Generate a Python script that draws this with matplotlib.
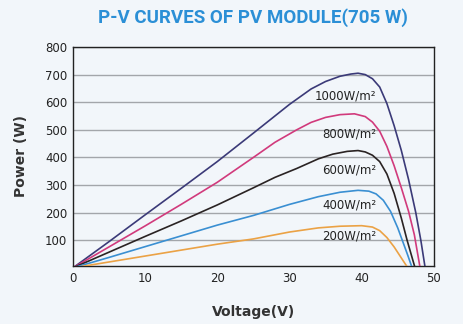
import matplotlib
matplotlib.use("Agg")
import matplotlib.pyplot as plt

# voltage / power points, one pair of lists per irradiance
v_1000 = [0, 5, 10, 15, 20, 25, 30, 33, 35, 37, 38.5, 39.5, 40.5, 41.5, 42.5, 43.5, 44.5, 45.5, 46.5, 47.5, 48.2, 48.8]
p_1000 = [0, 95, 192, 288, 385, 488, 592, 648, 675, 694, 702, 705, 700, 685, 655, 595, 515, 425, 320, 200, 100, 0]

v_800 = [0, 5, 10, 15, 20, 25, 28, 31, 33, 35, 37, 39, 40.5, 41.5, 42.5, 43.5, 44.5, 45.5, 46.5, 47.3, 48.1]
p_800 = [0, 76, 152, 230, 310, 400, 455, 500, 527, 545, 555, 558, 548, 528, 495, 440, 370, 290, 205, 120, 0]

v_600 = [0, 5, 10, 15, 20, 25, 28, 31, 34, 36, 38, 39.5, 40.5, 41.5, 42.5, 43.5, 44.5, 45.5, 46.3, 47.4]
p_600 = [0, 57, 114, 170, 228, 290, 328, 360, 395, 412, 422, 425, 420, 408, 385, 340, 270, 180, 100, 0]

v_400 = [0, 5, 10, 15, 20, 25, 30, 34, 37, 39.5, 41, 42, 43, 44, 45, 45.8, 46.4, 47.0]
p_400 = [0, 38, 77, 116, 155, 190, 230, 258, 274, 281, 278, 268, 245, 205, 145, 88, 45, 0]

v_200 = [0, 10, 20, 25, 30, 34, 37, 40, 41.5, 42.5, 43.5, 44.5, 45.5, 46.4]
p_200 = [0, 43, 86, 105, 130, 145, 151, 153, 148, 135, 110, 76, 36, 0]

labels = ["1000W/m²", "800W/m²", "600W/m²", "400W/m²", "200W/m²"]
label_y = [622, 484, 354, 227, 114]
colors = ["#3b3a78", "#d13a7c", "#2a2323", "#3a8fd2", "#eba245"]

bg = "#f2f6fa"
fig = plt.figure(figsize=(4.64, 3.24), dpi=100, facecolor=bg)
ax = fig.add_axes([0.157, 0.179, 0.778, 0.676], facecolor=bg)

curves = [(v_1000, p_1000), (v_800, p_800), (v_600, p_600), (v_400, p_400), (v_200, p_200)]
for (v, p), c in zip(curves, colors):
    ax.plot(v, p, color=c, lw=1.2, zorder=3, solid_joinstyle="round")

for lab, y in zip(labels, label_y):
    ax.text(42.0, y, lab, ha="right", va="center", fontsize=8.5, color="#222222", zorder=4)

ax.set_xlim(0, 50)
ax.set_ylim(7, 800)
ax.set_xticks([0, 10, 20, 30, 40, 50])
ax.set_yticks([100, 200, 300, 400, 500, 600, 700, 800])
ax.tick_params(length=0, labelsize=8.5, labelcolor="#222222", pad=4)
ax.grid(axis="y", color="#a3a6aa", lw=1)
ax.set_axisbelow(True)
for s in ax.spines.values():
    s.set_color("#222222")
    s.set_linewidth(1)

ax.set_xlabel("Voltage(V)", fontsize=10, fontweight="bold", color="#333333", labelpad=15)
ax.set_ylabel("Power (W)", fontsize=10, fontweight="bold", color="#333333", labelpad=12)

fig.text(0.545, 0.947, "P-V CURVES OF PV MODULE(705 W)", ha="center", va="center",
         fontsize=13.5, fontweight="bold", color="#2b8fd6", family="Roboto")

fig.savefig("out.png", dpi=100, facecolor=bg)
